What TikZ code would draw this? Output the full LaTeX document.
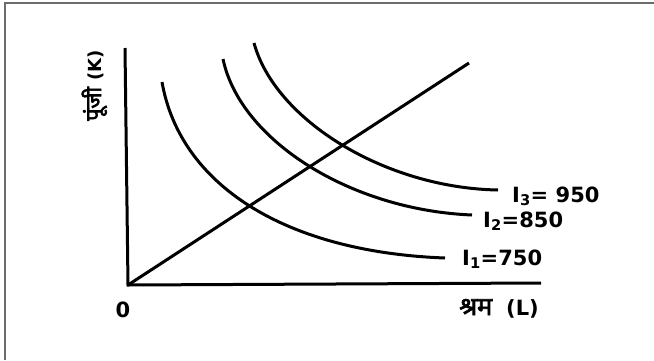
\documentclass[tikz,border=0pt]{standalone}
\usepackage{fontspec}
\setmainfont{DejaVu Sans}
\newfontfamily\devfont[Script=Devanagari,Scale=1.2,BoldFont={Noto Sans},BoldFeatures={FakeBold=3}]{Noto Sans}
\begin{document}
\begin{tikzpicture}[x=1pt,y=-1pt,
    curve/.style={line width=3pt},
    lbl/.style={font=\fontsize{21}{25}\selectfont\bfseries,inner sep=0pt}]
    % Khung
    \useasboundingbox (0,0) rectangle (654,360);
    \draw[gray!85!black,line width=1.2pt] (5,360) -- (5,3) -- (654,3);

    % Trục tọa độ
    \coordinate (O) at (128,285);
    \coordinate (Ytop) at (125,48);
    \coordinate (Xend) at (541,283);
    \draw[curve] (Ytop) -- (O) -- (Xend);
    \node[lbl] (Olbl) at (123,310) {0};
    \node[lbl,anchor=base east] (Xlbl) at (539,315) {{\devfont श्रम}\hspace{14pt}(L)};
    \node[lbl,rotate=90,anchor=base west,font=\fontsize{18}{22}\selectfont\bfseries] (Ylbl) at (101,121) {{\devfont पूंजी} (K)};

    % Tia từ gốc
    \coordinate (R) at (469,63);
    \draw[curve] (O) -- (R);

    % Các đường đẳng lượng
    \coordinate (A1) at (162,82);  \coordinate (B1) at (445,258);
    \coordinate (A2) at (223,59);  \coordinate (B2) at (472,215);
    \coordinate (A3) at (254,43);  \coordinate (B3) at (498,190);
    \draw[curve] (A1) .. controls (180,185) and (285,252) .. (B1);
    \draw[curve] (A2) .. controls (240,140) and (350,210) .. (B2);
    \draw[curve] (A3) .. controls (275,120) and (385,188) .. (B3);

    % Nhãn
    \node[lbl,anchor=base west] (L1) at (462,265) {I\textsubscript{1}=750};
    \node[lbl,anchor=base west] (L2) at (483,227) {I\textsubscript{2}=850};
    \node[lbl,anchor=base west] (L3) at (512,202) {I\textsubscript{3}= 950};
\end{tikzpicture}
\end{document}
